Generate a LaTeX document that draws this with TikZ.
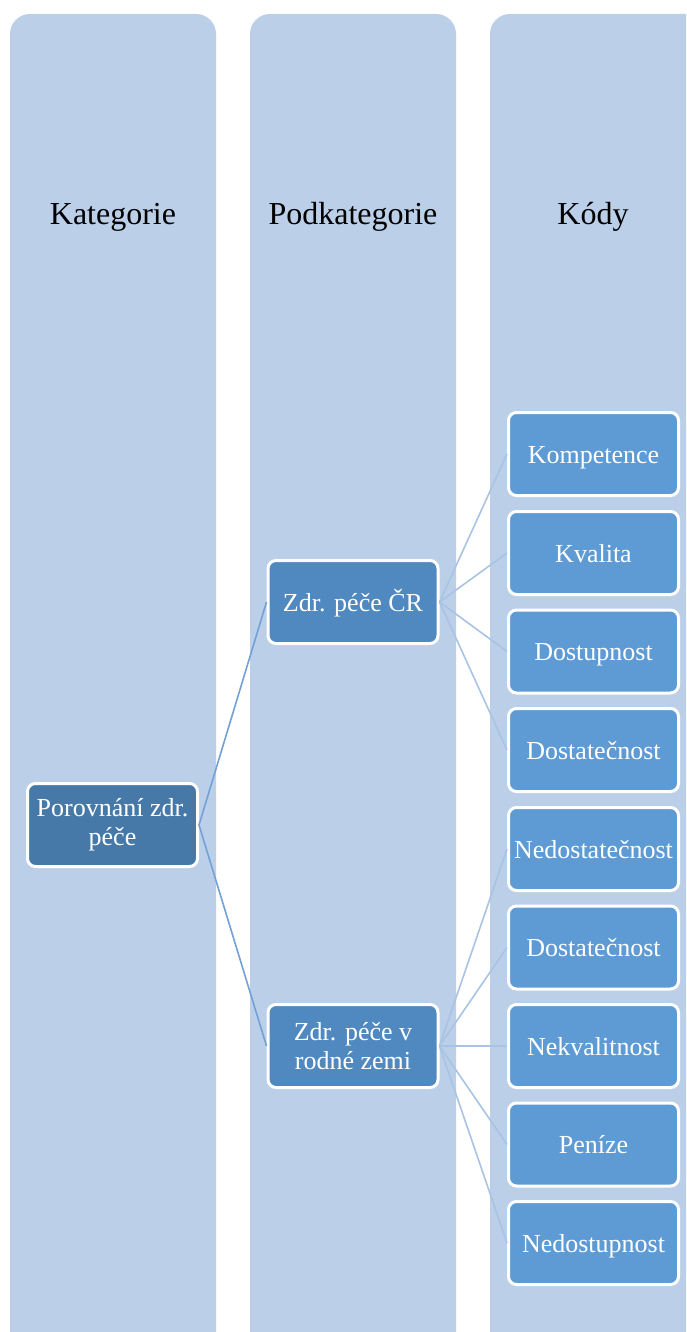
\documentclass[tikz,border=0pt]{standalone}
\usepackage{fontspec}
\setmainfont{Liberation Serif}
\begin{document}
\begin{tikzpicture}[x=1pt,y=-1pt,
  lane/.style={fill=laneblue,draw=none,rounded corners=20pt},
  head/.style={font=\fontsize{32}{38}\selectfont,text=black},
  box/.style={draw=white,line width=3pt,rounded corners=8pt,minimum width=170pt,minimum height=83pt,
    inner sep=2pt,align=center,text=white,font=\fontsize{26}{29}\selectfont},
  oneline/.style={text height=18pt,text depth=0pt},
  lvlone/.style={box,fill=blueA},
  lvltwo/.style={box,fill=blueB},
  lvlthree/.style={box,oneline,fill=blueC},
  linkA/.style={draw=linkdark,line width=1.6pt},
  linkB/.style={draw=linklight,line width=1.6pt}]
\definecolor{laneblue}{HTML}{BBCFE8}
\definecolor{blueA}{HTML}{4779A8}
\definecolor{blueB}{HTML}{5088C0}
\definecolor{blueC}{HTML}{5E9BD5}
\definecolor{linkdark}{HTML}{73A1D6}
\definecolor{linklight}{HTML}{A9C3E4}
\useasboundingbox (0,0) rectangle (686,1332);
\clip (0,0) rectangle (686,1332);
\fill[white] (0,0) rectangle (686,1332);
% swim lanes
\path[lane] (10,14) rectangle (216,1360);
\path[lane] (250,14) rectangle (456,1360);
\path[lane] (490,14) rectangle (740,1360);
\node[head] (h1) at (113,217) {Kategorie};
\node[head] (h2) at (353,217) {Podkategorie};
\node[head] (h3) at (593,217) {Kódy};
% boxes
\node[lvlone] (root) at (112.5,825) {Porovnání zdr.\\péče};
\node[lvltwo,oneline] (cr) at (353,602) {Zdr. péče ČR};
\node[lvltwo] (rz) at (353,1046) {Zdr. péče v\\rodné zemi};
\node[lvlthree] (c1) at (593.5,454) {Kompetence};
\node[lvlthree] (c2) at (593.5,553) {Kvalita};
\node[lvlthree] (c3) at (593.5,651.5) {Dostupnost};
\node[lvlthree] (c4) at (593.5,750) {Dostatečnost};
\node[lvlthree] (c5) at (593.5,849) {Nedostatečnost};
\node[lvlthree] (c6) at (593.5,947.5) {Dostatečnost};
\node[lvlthree] (c7) at (593.5,1046) {Nekvalitnost};
\node[lvlthree] (c8) at (593.5,1144.5) {Peníze};
\node[lvlthree] (c9) at (593.5,1243) {Nedostupnost};
% connectors
\draw[linkA] (root.east) -- (cr.west);
\draw[linkA] (root.east) -- (rz.west);
\foreach \c in {c1,c2,c3,c4}{\draw[linkB] (cr.east) -- (\c.west);}
\foreach \c in {c5,c6,c7,c8,c9}{\draw[linkB] (rz.east) -- (\c.west);}
\end{tikzpicture}
\end{document}
